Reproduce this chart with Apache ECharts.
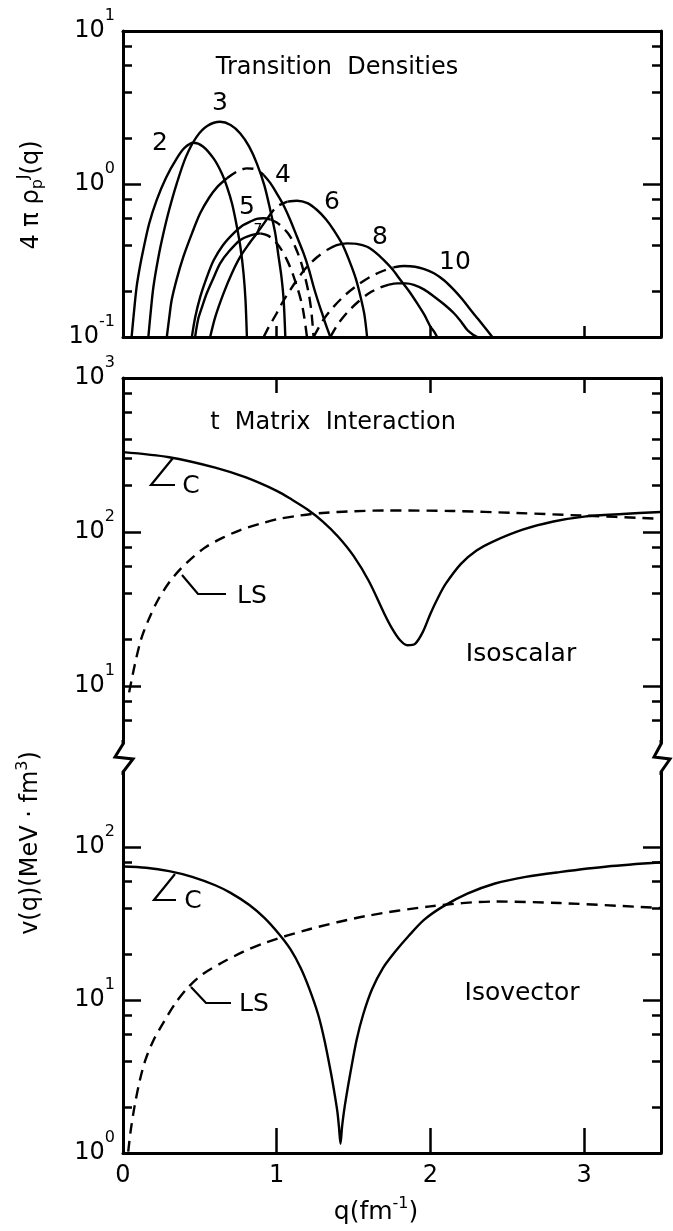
<!DOCTYPE html>
<html>
<head>
<meta charset="utf-8">
<script src="https://cdn.jsdelivr.net/npm/echarts@6/dist/echarts.min.js"></script>
<style>
html, body { margin: 0; padding: 0; background: #fff; }
#chart { width: 673px; height: 1231px; }
</style>
</head>
<body>
<div id="chart"></div>
<script>
// values: [q (fm^-1), value]
var qTicks = [1, 2, 3];
var qLabels = [0, 1, 2, 3];

// top panel: transition densities 4*pi*rho_p^J(q)
var rhoMajor = [0.1, 1, 10];
var rhoMinor = [0.2, 0.4, 0.6, 0.8, 2, 4, 6, 8];
var j2 = [[0.056, 0.1], [0.07, 0.141], [0.089, 0.214], [0.11, 0.288], [0.132, 0.372], [0.17, 0.55], [0.219, 0.785], [0.28, 1.1], [0.35, 1.47], [0.4, 1.72], [0.458, 1.86], [0.52, 1.76], [0.589, 1.47], [0.64, 1.19], [0.676, 0.962], [0.71, 0.741], [0.741, 0.526], [0.765, 0.38], [0.784, 0.261], [0.797, 0.174], [0.806, 0.1]];
var j3 = [[0.165, 0.1], [0.18, 0.145], [0.198, 0.213], [0.23, 0.331], [0.263, 0.476], [0.3, 0.676], [0.35, 1.01], [0.41, 1.51], [0.48, 2.04], [0.55, 2.4], [0.632, 2.55], [0.7, 2.43], [0.763, 2.14], [0.82, 1.76], [0.871, 1.36], [0.92, 0.977], [0.958, 0.676], [0.99, 0.479], [1.012, 0.335], [1.03, 0.251], [1.045, 0.175], [1.056, 0.1]];
var j4Left = [[0.285, 0.1], [0.3, 0.132], [0.317, 0.175], [0.35, 0.24], [0.393, 0.335], [0.45, 0.479], [0.502, 0.643], [0.56, 0.813], [0.611, 0.951], [0.676, 1.09]];
var j4Top = [[0.676, 1.09], [0.741, 1.205], [0.806, 1.265], [0.86, 1.25], [0.915, 1.145]];
var j4Right = [[0.915, 1.145], [0.96, 1.01], [1.0, 0.869], [1.045, 0.724], [1.088, 0.582], [1.13, 0.457], [1.175, 0.352], [1.21, 0.275], [1.24, 0.213], [1.27, 0.17], [1.295, 0.143], [1.32, 0.12], [1.349, 0.1]];
var j5Left = [[0.448, 0.1], [0.47, 0.135], [0.502, 0.182], [0.545, 0.245], [0.589, 0.316], [0.65, 0.398], [0.719, 0.476], [0.78, 0.537], [0.828, 0.568], [0.87, 0.592], [0.915, 0.597], [0.96, 0.586]];
var j5Right = [[0.96, 0.586], [1.0, 0.56], [1.045, 0.513], [1.088, 0.453], [1.12, 0.389], [1.154, 0.318], [1.18, 0.257], [1.208, 0.193], [1.225, 0.148], [1.24, 0.1]];
var j7Left = [[0.469, 0.1], [0.49, 0.132], [0.515, 0.158], [0.545, 0.193], [0.59, 0.245], [0.632, 0.303], [0.69, 0.363], [0.763, 0.431], [0.83, 0.462], [0.893, 0.476]];
var j7Right = [[0.893, 0.476], [0.94, 0.462], [0.98, 0.431], [1.025, 0.38], [1.067, 0.318], [1.1, 0.266], [1.132, 0.213], [1.155, 0.178], [1.175, 0.143], [1.197, 0.1]];
var j6Left = [[0.567, 0.1], [0.6, 0.135], [0.654, 0.193], [0.71, 0.263], [0.763, 0.335], [0.82, 0.407], [0.871, 0.476], [0.94, 0.596]];
var j6Top = [[0.94, 0.596], [1.0, 0.711], [1.07, 0.767]];
var j6Right = [[1.07, 0.767], [1.132, 0.778], [1.2, 0.75], [1.262, 0.676], [1.32, 0.589], [1.371, 0.5], [1.43, 0.398], [1.479, 0.303], [1.515, 0.24], [1.545, 0.184], [1.57, 0.141], [1.588, 0.1]];
var j8Left = [[0.915, 0.1], [0.95, 0.117], [1.0, 0.143], [1.04, 0.17], [1.088, 0.203], [1.14, 0.243], [1.197, 0.288], [1.26, 0.331], [1.327, 0.37]];
var j8Right = [[1.327, 0.37], [1.39, 0.398], [1.458, 0.409], [1.52, 0.406], [1.588, 0.389], [1.64, 0.359], [1.697, 0.318], [1.75, 0.279], [1.805, 0.236], [1.86, 0.2], [1.914, 0.166], [1.96, 0.14], [2.0, 0.117], [2.025, 0.108], [2.044, 0.1]];
var j10Left = [[1.24, 0.1], [1.3, 0.128], [1.371, 0.158], [1.45, 0.19], [1.53, 0.22], [1.61, 0.248], [1.69, 0.27], [1.76, 0.285]];
var j10Right = [[1.76, 0.285], [1.83, 0.291], [1.9, 0.288], [1.96, 0.278], [2.023, 0.261], [2.09, 0.234], [2.153, 0.203], [2.21, 0.175], [2.262, 0.15], [2.31, 0.131], [2.349, 0.117], [2.38, 0.107], [2.403, 0.1]];
var j9Left = [[1.349, 0.1], [1.4, 0.122], [1.46, 0.145], [1.53, 0.17], [1.6, 0.193], [1.67, 0.21], [1.73, 0.22]];
var j9Right = [[1.73, 0.22], [1.784, 0.224], [1.84, 0.224], [1.892, 0.219], [1.96, 0.204], [2.023, 0.184], [2.09, 0.163], [2.153, 0.143], [2.2, 0.126], [2.24, 0.111], [2.275, 0.104], [2.305, 0.1]];

// middle panel: isoscalar t-matrix interaction v(q) (MeV fm^3)
var isMajor = [10, 100, 1000];
var isMinor = [6, 8, 20, 40, 60, 80, 200, 300, 400, 600, 800];
var isoscalarC = [[0, 330], [0.3, 306], [0.6, 262], [0.8, 226], [1.0, 185], [1.1, 162], [1.2, 140], [1.3, 117], [1.4, 93.3], [1.5, 70], [1.6, 47.9], [1.7, 29.5], [1.75, 23.7], [1.8, 20], [1.85, 18.4], [1.9, 18.8], [1.95, 22.4], [2.0, 29.5], [2.05, 37.6], [2.1, 46.2], [2.2, 62.4], [2.3, 75.9], [2.4, 86.1], [2.6, 103.5], [2.8, 117], [3.0, 126], [3.25, 131], [3.5, 135]];
var isoscalarLS = [[0.04, 9.1], [0.075, 13.5], [0.118, 20.2], [0.17, 27.5], [0.23, 36.6], [0.3, 47], [0.37, 57], [0.45, 68], [0.539, 80], [0.65, 92], [0.763, 103], [0.89, 113], [1.016, 122], [1.15, 128], [1.297, 133], [1.5, 136.5], [1.718, 138], [2.139, 137], [2.56, 133], [2.98, 128], [3.5, 122]];

// bottom panel: isovector t-matrix interaction v(q) (MeV fm^3)
var ivMajor = [1, 10, 100];
var ivMinor = [2, 4, 6, 8, 20, 40, 60, 80];
var isovectorC = [[0, 74.5], [0.15, 73.1], [0.3, 69.5], [0.45, 63.8], [0.6, 56.2], [0.7, 50.1], [0.82, 41.9], [0.92, 34.4], [1.016, 26.9], [1.09, 21.4], [1.156, 16.2], [1.21, 12], [1.269, 8.07], [1.31, 5.5], [1.353, 3.33], [1.38, 2.32], [1.395, 1.85], [1.405, 1.48], [1.415, 1.15], [1.425, 1.48], [1.437, 1.85], [1.452, 2.32], [1.479, 3.33], [1.52, 5.5], [1.563, 8.07], [1.62, 11.75], [1.69, 16.1], [1.77, 20.65], [1.858, 26.2], [1.96, 33.5], [2.083, 40.9], [2.24, 49.5], [2.42, 57.7], [2.62, 63.8], [2.84, 68.5], [3.15, 74.5], [3.5, 79.4]];
var isovectorLS = [[0.034, 1.02], [0.05, 1.4], [0.076, 2.04], [0.11, 3.0], [0.146, 4.06], [0.2, 5.5], [0.258, 6.97], [0.34, 9.5], [0.427, 12.2], [0.52, 14.8], [0.651, 17.7], [0.78, 20.6], [0.932, 23.8], [1.212, 29], [1.577, 35.3], [1.998, 40.9], [2.419, 44], [2.84, 43], [3.5, 39.9]];

var FONT = '"DejaVu Sans", sans-serif';
var INK = '#000';

var grids = [
    {left: 123, right: 12, top: 31, height: 306},
    {left: 123, right: 12, top: 378, height: 365},
    {left: 123, right: 12, top: 772, height: 381}
];
var yRanges = [[0.1, 10], [4.27, 1000], [1, 309]];
var majors = [rhoMajor, isMajor, ivMajor];
var minors = [rhoMinor, isMinor, ivMinor];

function powLabel(v) {
    var e = Math.round(Math.log(v) / Math.LN10);
    return '{b|10}{s|' + (e < 0 ? '-' + (-e) : e) + '}';
}

var xAxes = [];
var yAxes = [];
// bottom/top axis per grid: [showLine, tickLength, showLabels]
var xSpec = [
    [[true, 11, false], [true, 0, false]],
    [[false, 0, false], [true, 15, false]],
    [[true, 25, true], [false, 0, false]]
];
for (var g = 0; g < 3; g++) {
    ['bottom', 'top'].forEach(function (pos, k) {
        var s = xSpec[g][k];
        xAxes.push({
            gridIndex: g, type: 'value', min: 0, max: 3.5, interval: 1, position: pos,
            axisLine: {show: s[0], lineStyle: {color: INK, width: 3}},
            axisTick: {show: s[1] > 0, inside: true, length: s[1], customValues: qTicks, lineStyle: {color: INK, width: 2.5}},
            axisLabel: {show: s[2], customValues: qLabels, margin: 11, color: INK, fontFamily: FONT, fontSize: 24},
            splitLine: {show: false}
        });
    });
    ['left', 'right'].forEach(function (pos) {
        yAxes.push({
            gridIndex: g, type: 'log', min: yRanges[g][0], max: yRanges[g][1], position: pos,
            axisLine: {show: true, lineStyle: {color: INK, width: 3}},
            axisTick: {show: true, inside: true, length: 18, customValues: majors[g], lineStyle: {color: INK, width: 2.5}},
            axisLabel: {
                show: pos === 'left', customValues: majors[g], margin: 8, color: INK, fontFamily: FONT,
                formatter: powLabel,
                rich: {
                    b: {fontSize: 24, fontFamily: FONT, color: INK},
                    s: {fontSize: 16, fontFamily: FONT, color: INK, padding: [0, 0, 30, 0]}
                }
            },
            splitLine: {show: false}
        });
        yAxes.push({
            gridIndex: g, type: 'log', min: yRanges[g][0], max: yRanges[g][1], position: pos,
            axisLine: {show: false},
            axisTick: {show: true, inside: true, length: 9, customValues: minors[g], lineStyle: {color: INK, width: 2.5}},
            axisLabel: {show: false},
            splitLine: {show: false}
        });
    });
}

function curve(g, data, dashed) {
    return {
        type: 'line', xAxisIndex: 2 * g, yAxisIndex: 4 * g, data: data,
        symbol: 'none', smooth: 0.3, clip: true, silent: true,
        lineStyle: {color: INK, width: 2.4, type: dashed ? [11, 7] : 'solid'}
    };
}

var series = [
    curve(0, j2), curve(0, j3),
    curve(0, j4Left), curve(0, j4Top, true), curve(0, j4Right),
    curve(0, j5Left), curve(0, j5Right, true),
    curve(0, j7Left), curve(0, j7Right, true),
    curve(0, j6Left), curve(0, j6Top, true), curve(0, j6Right),
    curve(0, j8Left, true), curve(0, j8Right),
    curve(0, j10Left, true), curve(0, j10Right),
    curve(0, j9Left, true), curve(0, j9Right),
    curve(1, isoscalarC), curve(1, isoscalarLS, true),
    curve(2, isovectorC), curve(2, isovectorLS, true)
];

function txt(x, y, text, size) {
    return {
        type: 'text', x: x, y: y, silent: true,
        style: {text: text, fill: INK, fontFamily: FONT, fontSize: size, textAlign: 'center', textVerticalAlign: 'middle'}
    };
}
function line(pts, w) {
    return {type: 'polyline', silent: true, shape: {points: pts}, style: {stroke: INK, lineWidth: w || 2.2, fill: null}};
}

var graphics = [
    txt(337, 68, 'Transition  Densities', 24),
    txt(160, 143, '2', 25), txt(220, 103, '3', 25), txt(283, 175, '4', 25), txt(247, 207, '5', 25),
    txt(258, 229, '7', 14),
    txt(332, 202, '6', 25), txt(380, 237, '8', 25), txt(455, 262, '10', 25),
    txt(333, 423, 't  Matrix  Interaction', 24),
    line([[173, 458], [151, 485], [175, 485]]), txt(191, 486, 'C', 25),
    line([[182, 575], [198, 594], [226, 594]]), txt(252, 596, 'LS', 25),
    txt(521, 654, 'Isoscalar', 25),
    line([[175, 874], [154, 900], [176, 900]]), txt(193, 901, 'C', 25),
    line([[191, 987], [206, 1003], [231, 1003]]), txt(254, 1004, 'LS', 25),
    txt(522, 993, 'Isovector', 25),
    line([[123, 740], [123, 744], [115, 757], [133, 759], [123, 772], [123, 775]], 3),
    line([[661, 740], [661, 744], [654, 757], [670, 759], [661, 772], [661, 775]], 3),
    {
        type: 'text', x: 32, y: 195, rotation: Math.PI / 2, silent: true,
        style: {
            text: '{t|4 π ρ}{b|p}{p|J}{t|(q)}', textAlign: 'center', textVerticalAlign: 'middle',
            rich: {
                t: {fontSize: 24, fontFamily: FONT, fill: INK},
                b: {fontSize: 16, fontFamily: FONT, fill: INK, padding: [12, 0, 0, 0]},
                p: {fontSize: 16, fontFamily: FONT, fill: INK, padding: [0, 0, 16, 0]}
            }
        }
    },
    {
        type: 'text', x: 31, y: 843, rotation: Math.PI / 2, silent: true,
        style: {
            text: '{t|v(q)(MeV · fm}{p|3}{t|)}', textAlign: 'center', textVerticalAlign: 'middle',
            rich: {
                t: {fontSize: 24, fontFamily: FONT, fill: INK},
                p: {fontSize: 16, fontFamily: FONT, fill: INK, padding: [0, 0, 16, 0]}
            }
        }
    },
    {
        type: 'text', x: 376, y: 1212, silent: true,
        style: {
            text: '{t|q(fm}{p|-1}{t|)}', textAlign: 'center', textVerticalAlign: 'middle',
            rich: {
                t: {fontSize: 25, fontFamily: FONT, fill: INK},
                p: {fontSize: 16, fontFamily: FONT, fill: INK, padding: [0, 0, 16, 0]}
            }
        }
    }
];

var chart = echarts.init(document.getElementById('chart'));
chart.setOption({
    animation: false,
    backgroundColor: '#fff',
    grid: grids,
    xAxis: xAxes,
    yAxis: yAxes,
    series: series,
    graphic: graphics
});

window.addEventListener('resize', function () {
    chart.resize();
});
</script>
</body>
</html>
